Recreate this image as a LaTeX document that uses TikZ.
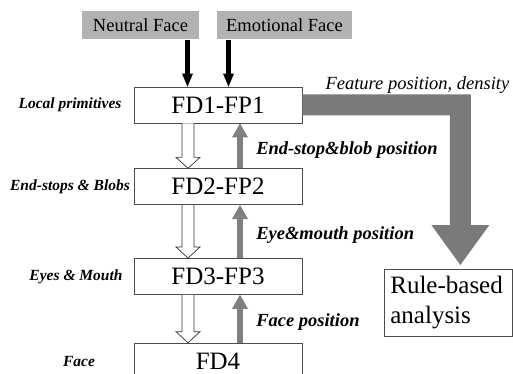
\documentclass[tikz,border=0pt]{standalone}
\usepackage{fontspec}
\setmainfont{Liberation Serif}
\usepackage{tikz}
\usetikzlibrary{positioning,arrows.meta,calc}

% hollow down arrow from box #1 to box #2
\newcommand{\hollowdown}[2]{%
  \draw[hollow] ([xshift=-36pt]#1.south) -- ([xshift=-36pt,yshift=11pt]#2.north)
    -- ([xshift=-42pt,yshift=11pt]#2.north) -- ([xshift=-30pt]#2.north)
    -- ([xshift=-18pt,yshift=11pt]#2.north) -- ([xshift=-24pt,yshift=11pt]#2.north)
    -- ([xshift=-24pt]#1.south);}

\begin{document}
\begin{tikzpicture}[x=1pt,y=1pt,>=Stealth]
\tikzstyle{fd}=[draw=black!70,line width=0.7pt,fill=white,minimum width=168pt,minimum height=36pt,inner sep=0pt,font=\fontsize{25}{30}\selectfont]
\tikzstyle{inp}=[fill=black!30,minimum height=28pt,inner sep=0pt,font=\fontsize{18.5}{22}\selectfont]
\tikzstyle{lvl}=[inner sep=0pt,font=\fontsize{15.5}{18}\selectfont\bfseries\itshape]
\tikzstyle{poslbl}=[inner sep=0pt,font=\fontsize{18.5}{22}\selectfont\bfseries\itshape]
\tikzstyle{feed}=[line width=5pt,-{Triangle[width=11pt,length=13pt,line width=0pt]}]
\tikzstyle{uparr}=[line width=6.5pt,draw=black!50,-{Triangle[width=16pt,length=14pt,line width=0pt]}]
\tikzstyle{hollow}=[draw=black!80,line width=0.7pt,fill=white]
\tikzstyle{bigarr}=[fill=black!52]
\useasboundingbox (0,0) rectangle (513,-374);

% the FD-FP levels
\node[fd] (fd1) at (218,-105) {FD1-FP1};
\node[fd,below=45pt of fd1] (fd2) {FD2-FP2};
\node[fd,below=53pt of fd2] (fd3) {FD3-FP3};
\node[fd,below=48pt of fd3] (fd4) {FD4};

% inputs
\node[inp,minimum width=117pt,above=47pt of fd1,xshift=-77.5pt] (neutral) {Neutral Face};
\node[inp,minimum width=135pt,above=47pt of fd1,xshift=66.5pt] (emotional) {Emotional Face};
\draw[feed] ([xshift=47pt]neutral.south) -- ([xshift=47pt]neutral.south |- fd1.north);
\draw[feed] ([xshift=-56pt]emotional.south) -- ([xshift=-56pt]emotional.south |- fd1.north);

% level names
\coordinate (col) at (70,0);
\node[lvl] at (col |- fd1) {Local primitives};
\node[lvl] at (col |- fd2) {End-stops \& Blobs};
\node[lvl,xshift=6pt] at (col |- fd3) {Eyes \& Mouth};
\node[lvl,xshift=9pt] at (col |- fd4) {Face};

% top-down and bottom-up
\hollowdown{fd1}{fd2}
\hollowdown{fd2}{fd3}
\hollowdown{fd3}{fd4}
\draw[uparr] ([xshift=22pt]fd2.north) -- node[poslbl,right=13pt,yshift=-4pt]{End-stop\&blob position} ([xshift=22pt]fd1.south);
\draw[uparr] ([xshift=22pt]fd3.north) -- node[poslbl,right=13pt,yshift=-4pt]{Eye\&mouth position} ([xshift=22pt]fd2.south);
\draw[uparr] ([xshift=22pt]fd4.north) -- node[poslbl,right=13pt,yshift=-3pt]{Face position} ([xshift=22pt]fd3.south);

% rule-based branch
\node[draw=black!70,line width=0.7pt,anchor=north west,minimum height=67pt,inner xsep=6pt,text width=116pt,align=left,font=\fontsize{25}{30}\selectfont] (rule) at (384,-269) {Rule-based\\analysis};
\coordinate (tip) at ([xshift=12pt,yshift=4pt]rule.north);
\fill[bigarr] ($(fd1.east)+(0,10.5)$) -| ($(tip)+(10.5,40)$) -- ($(tip)+(29,40)$) -- (tip)
  -- ($(tip)+(-29,40)$) -- ($(tip)+(-10.5,40)$) |- ($(fd1.east)+(0,-10.5)$) -- cycle;
\node[inner sep=0pt,anchor=south west,font=\fontsize{18.5}{22}\selectfont\itshape] (feat) at ($(fd1.east)+(23,11)$) {Feature position, density};
\end{tikzpicture}
\end{document}
